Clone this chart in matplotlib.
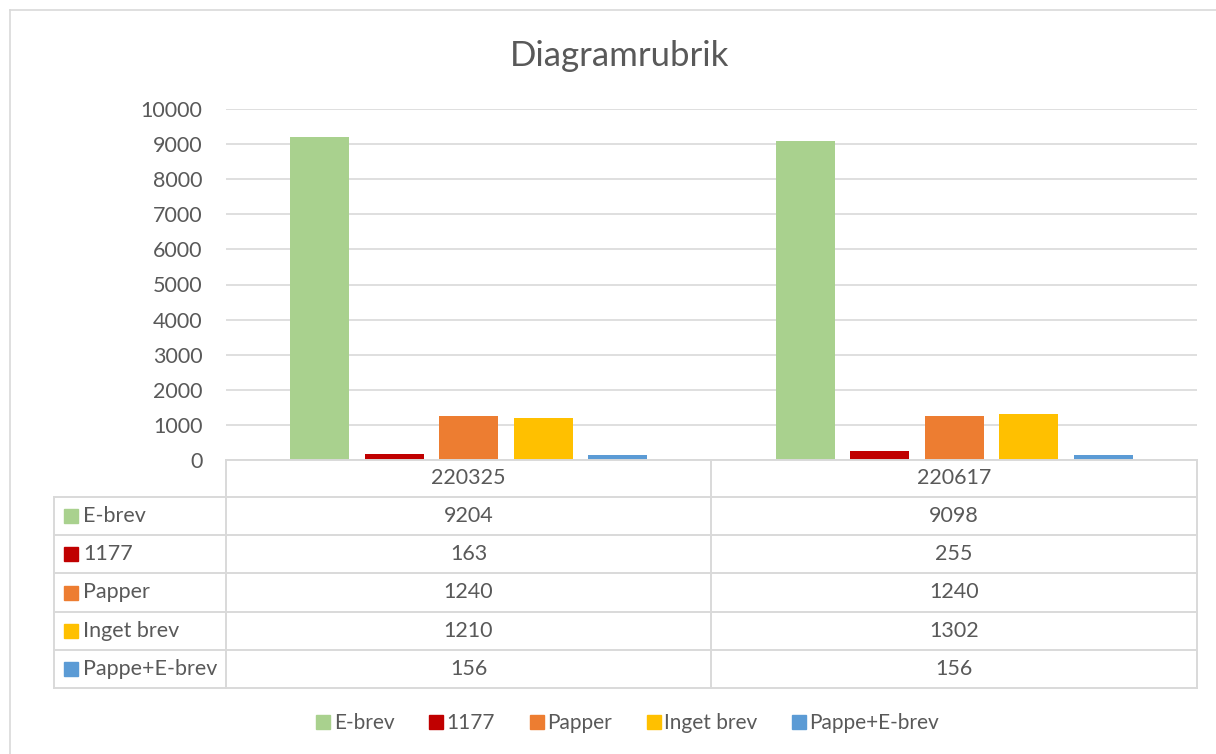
import matplotlib.pyplot as plt
from matplotlib.lines import Line2D
from matplotlib.patches import Rectangle

plt.rcParams["font.family"] = ["Lato", "DejaVu Sans"]

# data
dates = ["220325", "220617"]
series = ["E-brev", "1177", "Papper", "Inget brev", "Pappe+E-brev"]
values = [
    [9204, 9098],
    [163, 255],
    [1240, 1240],
    [1210, 1302],
    [156, 156],
]
colors = ["#A9D18E", "#C00000", "#ED7D31", "#FFC000", "#5B9BD5"]
yticks = [0, 1000, 2000, 3000, 4000, 5000, 6000, 7000, 8000, 9000, 10000]

W, H = 1216, 754
TXT = "#595959"
GRID = "#D9D9D9"


def fx(x):
    return x / W


def fy(y):
    return 1 - y / H


fig = plt.figure(figsize=(W / 100, H / 100), dpi=100)

# chart frame (only left/top visible)
fig.add_artist(Line2D([fx(10), fx(10)], [fy(10), fy(760)], color=GRID, lw=1.2, transform=fig.transFigure))
fig.add_artist(Line2D([fx(10), fx(1220)], [fy(10), fy(10)], color=GRID, lw=1.2, transform=fig.transFigure))

# plot area
left, right, top, bottom = 226, 1197, 109, 460
ax = fig.add_axes([fx(left), fy(bottom), fx(right - left), (bottom - top) / H])
ax.set_xlim(0, len(dates))
ax.set_ylim(0, 10000)

step = 0.1532
width = 0.1215
for k, name in enumerate(series):
    xs = [i + 0.5 + (k - 2) * step for i in range(len(dates))]
    ax.bar(xs, values[k], width=width, color=colors[k], zorder=3)

ax.set_yticks(yticks)
ax.set_yticklabels([str(t) for t in yticks], fontsize=15.5, color=TXT)
ax.tick_params(axis="y", length=0, pad=17)
ax.set_xticks([])
ax.grid(axis="y", color=GRID, lw=1.2, zorder=0)
for s in ax.spines.values():
    s.set_visible(False)

fig.text(fx(620), fy(56), "Diagramrubrik", fontsize=25, color=TXT, ha="center", va="center")

# data table
rows_y = [460, 497, 535, 573, 612, 650, 688]
col_x = [54, 226, 711, 1197]


def hline(y, x0, x1):
    fig.add_artist(Line2D([fx(x0), fx(x1)], [fy(y), fy(y)], color=GRID, lw=1.4, transform=fig.transFigure))


def vline(x, y0, y1):
    fig.add_artist(Line2D([fx(x), fx(x)], [fy(y0), fy(y1)], color=GRID, lw=1.4, transform=fig.transFigure))


hline(rows_y[0], col_x[1], col_x[3])
for y in rows_y[1:]:
    hline(y, col_x[0], col_x[3])
vline(col_x[0], rows_y[1], rows_y[-1])
for x in col_x[1:]:
    vline(x, rows_y[0], rows_y[-1])

for j, d in enumerate(dates):
    cx = (col_x[j + 1] + col_x[j + 2]) / 2
    fig.text(fx(cx), fy((rows_y[0] + rows_y[1]) / 2), d, fontsize=15.5, color=TXT, ha="center", va="center")

for k, name in enumerate(series):
    cy = (rows_y[k + 1] + rows_y[k + 2]) / 2
    fig.add_artist(Rectangle((fx(64), fy(cy + 7)), fx(14), 14 / H, color=colors[k], transform=fig.transFigure))
    fig.text(fx(83), fy(cy), name, fontsize=15.5, color=TXT, ha="left", va="center")
    for j in range(len(dates)):
        cx = (col_x[j + 1] + col_x[j + 2]) / 2
        fig.text(fx(cx), fy(cy), str(values[k][j]), fontsize=15.5, color=TXT, ha="center", va="center")

# legend
handles = [Line2D([], [], marker="s", ls="", color=c, markersize=10.5) for c in colors]
fig.legend(handles, series, loc="center", bbox_to_anchor=(fx(626), fy(723)), ncol=5, frameon=False,
           fontsize=15, labelcolor=TXT, handletextpad=0.0, columnspacing=1.5, handlelength=1.0)

fig.savefig("out.png", dpi=100)
